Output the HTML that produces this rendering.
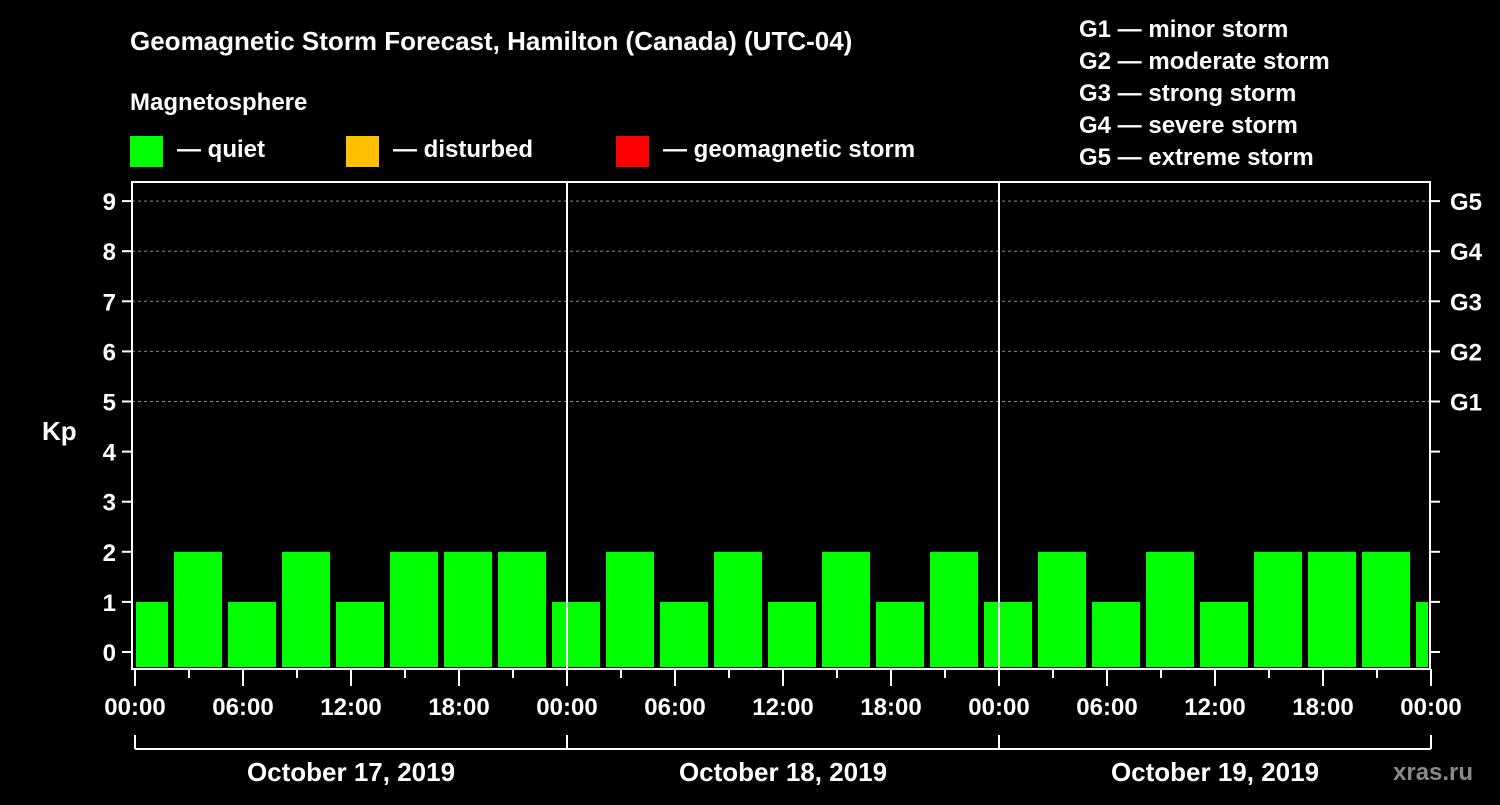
<!DOCTYPE html>
<html><head><meta charset="utf-8"><style>
body{margin:0;background:#000;width:1500px;height:800px;overflow:hidden}
svg text{font-family:"Liberation Sans",Arial,sans-serif;font-weight:bold;fill:#fff}
</style></head><body>
<svg width="1500" height="800">
<g id="static">
<text x="130" y="50" font-size="26">Geomagnetic Storm Forecast, Hamilton (Canada) (UTC-04)</text>
<text x="130" y="110" font-size="24">Magnetosphere</text>
<rect x="130" y="136" width="33" height="31" fill="#00ff00"/>
<text x="177" y="157" font-size="24">— quiet</text>
<rect x="346" y="136" width="33" height="31" fill="#ffc000"/>
<text x="393" y="157" font-size="24">— disturbed</text>
<rect x="616" y="136" width="33" height="31" fill="#ff0000"/>
<text x="663" y="157" font-size="24">— geomagnetic storm</text>
<g font-size="24">
<text x="1079" y="37">G1 — minor storm</text>
<text x="1079" y="69">G2 — moderate storm</text>
<text x="1079" y="101">G3 — strong storm</text>
<text x="1079" y="133">G4 — severe storm</text>
<text x="1079" y="165">G5 — extreme storm</text>
</g>
<text x="42" y="440" font-size="26">Kp</text>
<text x="1393" y="780" font-size="24" fill="#888" style="fill:#8a8a8a">xras.ru</text>
</g>
<g id="chart"></g>
</svg>
<script>
const kpValues=[1,2,1,2,1,2,2,2,1,2,1,2,1,2,1,2,1,2,1,2,1,2,2,2,1];
const yTicks=[0,1,2,3,4,5,6,7,8,9];
const gLabels=["G1","G2","G3","G4","G5"];
const gLevels=[5,6,7,8,9];
const timeLabels=["00:00","06:00","12:00","18:00","00:00","06:00","12:00","18:00","00:00","06:00","12:00","18:00","00:00"];
const dateLabels=["October 17, 2019","October 18, 2019","October 19, 2019"];

const NS="http://www.w3.org/2000/svg";
const g=document.getElementById('chart');
const L=132,R=1430,T=182,B=669,X0=135,dayW=432;
const y=v=>652-v*50.1;
const xh=h=>X0+h*dayW/24;
function mk(t,a,p){const e=document.createElementNS(NS,t);for(const k in a)e.setAttribute(k,a[k]);(p||g).appendChild(e);return e;}
// grid
gLevels.forEach(v=>{const l=mk('line',{x1:L,x2:R,y1:y(v),y2:y(v),stroke:'#888','stroke-dasharray':'3,3','stroke-width':1});

});
// bars
const clip=mk('clipPath',{id:'pc'});mk('rect',{x:L+4,y:T,width:R-L-6,height:B-T},clip);
kpValues.forEach((v,i)=>{const c=xh(1.5+3*i-1);const col=v>=5?'#ff0000':v>=4?'#ffc000':'#00ff00';
const r=mk('rect',{x:c-24,y:y(v),width:48,height:667-y(v),fill:col,'clip-path':'url(#pc)'});

});
// day separators
[1,2].forEach(d=>{const l=mk('line',{x1:X0+d*dayW,x2:X0+d*dayW,y1:T,y2:B,stroke:'#fff','stroke-width':2});

});
// frame
const f=mk('rect',{x:L,y:T,width:R-L,height:B-T,fill:'none',stroke:'#fff','stroke-width':2});


// y ticks
yTicks.forEach(v=>{mk('line',{x1:122,x2:L,y1:y(v),y2:y(v),stroke:'#fff','stroke-width':2});
mk('line',{x1:R,x2:1440,y1:y(v),y2:y(v),stroke:'#fff','stroke-width':2});
const t=mk('text',{x:116,y:y(v)+9,'font-size':24,'text-anchor':'end'});t.textContent=v;

});
gLabels.forEach((s,i)=>{const t=mk('text',{x:1450,y:y(gLevels[i])+9,'font-size':24});t.textContent=s;

});
// x ticks
for(let h=0;h<=72;h+=3){const big=h%6==0;mk('line',{x1:xh(h),x2:xh(h),y1:B,y2:big?686:678,stroke:'#fff','stroke-width':2});}
timeLabels.forEach((s,i)=>{const t=mk('text',{x:xh(i*6),y:715,'font-size':24,'text-anchor':'middle'});t.textContent=s;

});
// date bracket
mk('line',{x1:X0,x2:X0+3*dayW,y1:749,y2:749,stroke:'#fff','stroke-width':2});
for(let d=0;d<=3;d++)mk('line',{x1:X0+d*dayW,x2:X0+d*dayW,y1:735,y2:749,stroke:'#fff','stroke-width':2});
dateLabels.forEach((s,i)=>{const t=mk('text',{x:X0+(i+0.5)*dayW,y:781,'font-size':26,'text-anchor':'middle'});t.textContent=s;

});
</script>
</body></html>
